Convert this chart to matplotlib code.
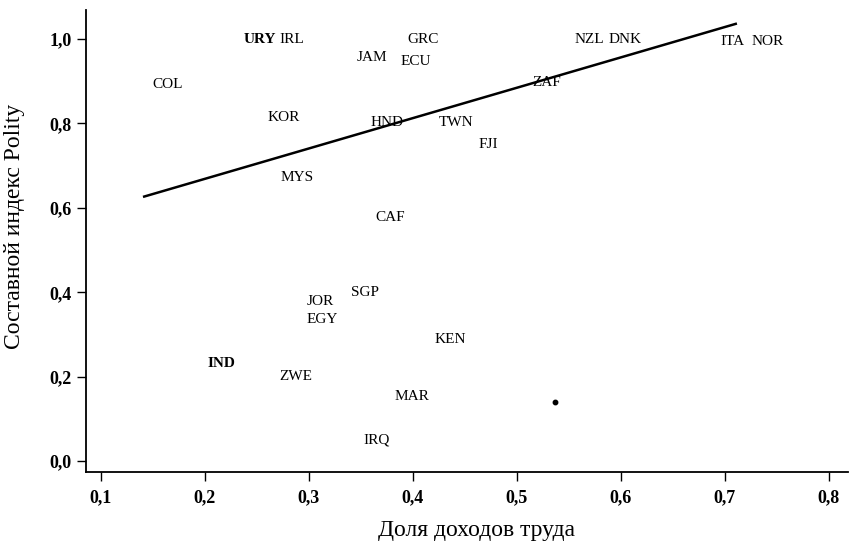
import matplotlib
matplotlib.use("Agg")
import matplotlib.pyplot as plt
from matplotlib.ticker import FixedLocator, FuncFormatter

plt.rcParams['font.family'] = ['Liberation Serif', 'DejaVu Serif']

# country codes and positions (labour share, Polity index)
codes = ['COL', 'URY', 'IRL', 'JAM', 'GRC', 'ECU', 'KOR', 'HND', 'TWN', 'MYS',
         'CAF', 'FJI', 'ZAF', 'NZL', 'DNK', 'ITA', 'NOR', 'SGP', 'JOR', 'EGY',
         'KEN', 'IND', 'ZWE', 'MAR', 'IRQ']
labour = [0.164, 0.253, 0.283, 0.361, 0.410, 0.403, 0.276, 0.375, 0.441, 0.289,
          0.378, 0.472, 0.529, 0.570, 0.604, 0.707, 0.741, 0.354, 0.311, 0.313,
          0.436, 0.216, 0.287, 0.399, 0.365]
polity = [0.893, 1.000, 1.000, 0.957, 1.000, 0.946, 0.815, 0.803, 0.803, 0.673,
          0.578, 0.751, 0.896, 1.000, 1.000, 0.995, 0.995, 0.400, 0.379, 0.336,
          0.287, 0.232, 0.201, 0.152, 0.050]
bold_codes = ['URY', 'IND']

# unlabeled point
dot_x = [0.5365]
dot_y = [0.140]

# fitted line end points
fit_x = [0.1404, 0.7115]
fit_y = [0.626, 1.037]

xticks = [0.1, 0.2, 0.3, 0.4, 0.5, 0.6, 0.7, 0.8]
yticks = [0.0, 0.2, 0.4, 0.6, 0.8, 1.0]

fig = plt.figure(figsize=(8.5, 5.47), dpi=100)
ax = fig.add_axes([86 / 850, 1 - 472 / 547, 762 / 850, 462 / 547])

ax.plot(fit_x, fit_y, '-', color='black', lw=1.8, solid_capstyle='butt')
ax.plot(dot_x, dot_y, 'o', color='black', markersize=3.2)

for code, x, y in zip(codes, labour, polity):
    ax.text(x, y, code, ha='center', va='center', fontsize=11,
            fontweight='bold' if code in bold_codes else 'normal')

ax.set_xlim(0.0856, 0.8183)
ax.set_ylim(-0.026, 1.069)

ax.spines['top'].set_visible(False)
ax.spines['right'].set_visible(False)
for s in ['left', 'bottom']:
    ax.spines[s].set_linewidth(1.3)

ax.xaxis.set_major_locator(FixedLocator(xticks))
ax.yaxis.set_major_locator(FixedLocator(yticks))
fmt = FuncFormatter(lambda v, p: f"{v:.1f}".replace('.', ','))
ax.xaxis.set_major_formatter(fmt)
ax.yaxis.set_major_formatter(fmt)
ax.tick_params(direction='out', length=6.5, width=1.0, labelsize=13)
ax.tick_params(axis='x', pad=6)
ax.tick_params(axis='y', pad=4)
for lab in ax.get_xticklabels() + ax.get_yticklabels():
    lab.set_fontweight('bold')

ax.set_xlabel('Доля доходов труда', fontsize=17)
ax.set_ylabel('Составной индекс Polity', fontsize=17)
ax.xaxis.set_label_coords(0.512, -0.103)
ax.yaxis.set_label_coords(-0.080, 0.531)

fig.savefig('out.png', dpi=100)
